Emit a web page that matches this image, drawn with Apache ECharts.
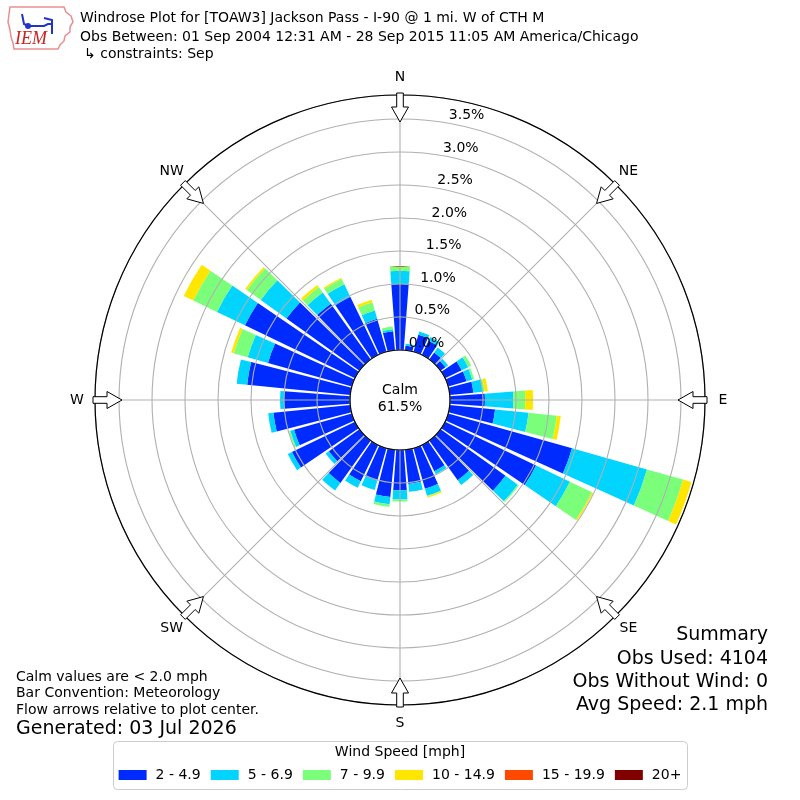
<!DOCTYPE html>
<html><head><meta charset="utf-8">
<script src="https://cdn.jsdelivr.net/npm/echarts/dist/echarts.min.js"></script>
<style>html,body{margin:0;padding:0;background:#fff}#c{width:800px;height:800px}</style>
</head><body><div id="c"></div>
<script>
// ---- data ----
const directions = ['0','10','20','30','40','50','60','70','80','90','100','110','120','130','140','150','160','170',
  '180','190','200','210','220','230','240','250','260','270','280','290','300','310','320','330','340','350'];
const speedBins = ['2 - 4.9','5 - 6.9','7 - 9.9','10 - 14.9','15 - 19.9','20+'];
const binColors = ['#002bff','#00d4ff','#7bff7b','#ffe600','#ff4800','#800000'];
// percent of observations per direction and speed bin
const speed2to5   = [1.00,0.07,0.27,0.24,0.13,0.09,0.28,0.29,0.36,0.53,0.69,1.95,1.53,1.21,0.74,0.44,0.64,0.52,
                     0.61,0.72,0.51,0.61,0.79,0.57,1.06,0.91,1.17,1.00,1.57,1.32,1.85,1.36,1.04,0.98,0.52,0.29];
const speed5to7   = [0.20,0.03,0.05,0.06,0.09,0.05,0.11,0.09,0.14,0.43,0.51,1.18,0.57,0.23,0.09,0.05,0.11,0.12,
                     0.14,0.11,0.15,0.11,0.14,0.06,0.07,0.06,0.08,0.06,0.16,0.32,0.47,0.48,0.21,0.21,0.13,0.03];
const speed7to10  = [0.07,0,0,0,0,0,0.05,0.03,0.03,0.18,0.43,0.57,0.37,0.02,0,0,0.01,0,
                     0.03,0.04,0,0,0,0,0,0.02,0,0,0,0.22,0.40,0.26,0.10,0.09,0.13,0.04];
const speed10to15 = [0,0,0,0,0,0,0,0,0.05,0.12,0.06,0.13,0.02,0,0,0,0.02,0,
                     0,0,0,0,0,0,0,0,0,0,0,0.04,0.16,0.03,0.04,0.02,0.04,0];
const speed15to20 = [0,0,0,0,0,0,0,0,0,0,0,0,0,0,0,0,0,0,0,0,0,0,0,0,0,0,0,0,0,0,0,0,0,0,0,0];
const speed20plus = [0,0,0,0,0,0,0,0,0,0,0,0,0,0,0,0,0,0,0,0,0,0,0,0,0,0,0,0,0,0,0,0,0,0,0,0];
const radialTicks = [0,0.5,1.0,1.5,2.0,2.5,3.0,3.5];
const compassLabels = ['N','NE','E','SE','S','SW','W','NW'];
const compassAngles = [0,45,90,135,180,225,270,315];
const calmPercent = 61.5;
const titleLines = ['Windrose Plot for [TOAW3] Jackson Pass - I-90 @ 1 mi. W of CTH M',
  'Obs Between: 01 Sep 2004 12:31 AM - 28 Sep 2015 11:05 AM America/Chicago'];
const constraintLine = '\u21b3 constraints: Sep';
const noteLines = ['Calm values are < 2.0 mph','Bar Convention: Meteorology','Flow arrows relative to plot center.'];
const generatedText = 'Generated: 03 Jul 2026';
const summaryLines = ['Summary','Obs Used: 4104','Obs Without Wind: 0','Avg Speed: 2.1 mph'];
const legendTitle = 'Wind Speed [mph]';

// ---- chart ----
const FONT = '"DejaVu Sans", sans-serif';
const rMax = 3.864;
const chart = echarts.init(document.getElementById('c'), null, {renderer:'canvas', width:800, height:800});
const binData = [speed2to5, speed5to7, speed7to10, speed10to15, speed15to20, speed20plus];
const series = speedBins.map((name, i) => ({
  type:'bar', name, coordinateSystem:'polar', polarIndex:0, stack:'wind',
  data: binData[i], barCategoryGap:'14%', itemStyle:{color: binColors[i]},
  emphasis:{disabled:true}, silent:true, z:2
}));
const gridColor = '#b0b0b0';
chart.setOption({
  animation:false,
  backgroundColor:'#fff',
  textStyle:{fontFamily:FONT},
  polar:[
    {center:[400,400], radius:[50,305]},
    {center:[400,400], radius:[50,305]}
  ],
  angleAxis:[
    {polarIndex:0, type:'category', data:directions, startAngle:95, clockwise:true, boundaryGap:true,
     axisLine:{show:false}, axisTick:{show:false}, axisLabel:{show:false}, splitLine:{show:false}, splitArea:{show:false}},
    {polarIndex:1, type:'value', min:0, max:360, interval:45, startAngle:90, clockwise:true,
     axisLine:{show:true, lineStyle:{color:'#000', width:1.2}}, axisTick:{show:false}, axisLabel:{show:false},
     splitLine:{show:true, lineStyle:{color:gridColor, width:1.1}}, splitArea:{show:false}, z:6}
  ],
  radiusAxis:[
    {polarIndex:0, type:'value', min:0, max:rMax,
     axisLine:{show:false}, axisTick:{show:false}, axisLabel:{show:false}, splitLine:{show:false}, splitArea:{show:false}},
    {polarIndex:1, type:'value', min:0, max:rMax, interval:0.5,
     axisLine:{show:false}, axisTick:{show:false}, axisLabel:{show:false},
     splitLine:{show:true, lineStyle:{color:gridColor, width:1.1}}, splitArea:{show:false}, z:5}
  ],
  legend:{
    data:speedBins, left:'center', top:763, icon:'rect', itemWidth:28, itemHeight:10, itemGap:10,
    selectedMode:false, z:10,
    textStyle:{fontFamily:FONT, fontSize:14, color:'#000', padding:[0,0,0,4]}
  },
  series
});

// ---- decorations placed through the polar coordinate system ----
function polarPt(r, a) { return chart.convertToPixel({polarIndex:1}, [r, a]); }
const g = [];
function txt(x, y, text, size, align, vAlign, extra) {
  g.push(Object.assign({type:'text', x, y, z:100, silent:true,
    style:{text, font: size + 'px ' + FONT, fill:'#000', align, verticalAlign:vAlign}}, extra || {}));
}
compassAngles.forEach((a, i) => {
  const p0 = polarPt(0, a), p1 = polarPt(rMax, a);
  const ux = (p1[0]-p0[0])/255, uy = (p1[1]-p0[1])/255;
  const cx = p0[0]-50*ux, cy = p0[1]-50*uy;
  const px = -uy, py = ux;
  const P = (r, w) => [cx + r*ux + w*px, cy + r*uy + w*py];
  g.push({type:'polygon', z:100, silent:true,
    shape:{points:[P(307,-3.3),P(293,-3.3),P(293,-8.5),P(278,0),P(293,8.5),P(293,3.3),P(307,3.3)]},
    style:{fill:'#fff', stroke:'#000', lineWidth:1}});
  const lp = P(323, 0);
  txt(lp[0], lp[1], compassLabels[i], 14, 'center', 'middle');
});
radialTicks.forEach(t => {
  const p = polarPt(t, 10);
  txt(p[0], p[1]-7.5, t.toFixed(1) + '%', 14, 'left', 'middle');
});
const c0 = polarPt(0, 0);
txt(c0[0], c0[1] + 40, 'Calm', 14, 'center', 'middle');
txt(c0[0], c0[1] + 57, calmPercent.toFixed(1) + '%', 14, 'center', 'middle');

// title
txt(80, 18, titleLines[0], 14, 'left', 'middle');
txt(80, 37, titleLines[1], 14, 'left', 'middle');
txt(84, 54, constraintLine, 14, 'left', 'middle');
// notes
txt(16, 677, noteLines[0], 14, 'left', 'middle');
txt(16, 693, noteLines[1], 14, 'left', 'middle');
txt(16, 710, noteLines[2], 14, 'left', 'middle');
txt(16, 729, generatedText, 19, 'left', 'middle');
// summary
[635, 659, 682, 705].forEach((y, i) => txt(768, y, summaryLines[i], 19, 'right', 'middle'));
// legend box
g.push({type:'rect', z:0, silent:true, shape:{x:113.5, y:741.5, width:574, height:48, r:4},
  style:{fill:'#fff', stroke:'#cccccc', lineWidth:1}});
txt(400, 752, legendTitle, 14, 'center', 'middle');
// IEM logo
g.push({type:'polygon', z:100, silent:true,
  shape:{points:[[10,7],[64,7],[66,12],[71,16],[73,22],[70,27],[70,32],[65,36],[64,41],[60,45],[58,49],
                 [14,49],[13,43],[11,37],[10,30],[8,22],[9,14]]},
  style:{fill:'none', stroke:'#e89090', lineWidth:1.5}});
g.push({type:'polyline', z:100, silent:true, shape:{points:[[22,14],[24,24],[28,26],[44,26],[48,24],[52,24]]},
  style:{stroke:'#2233cc', lineWidth:2, fill:'none'}});
g.push({type:'polyline', z:100, silent:true, shape:{points:[[44,18],[52,20],[52,34]]},
  style:{stroke:'#2233cc', lineWidth:2, fill:'none'}});
g.push({type:'circle', z:100, silent:true, shape:{cx:28, cy:26, r:3}, style:{fill:'#2233cc'}});
txt(15, 39, 'IEM', 18, 'left', 'middle', {style:{text:'IEM', font:'italic 18px "Liberation Serif", serif', fill:'#cc2222', align:'left', verticalAlign:'middle'}});

chart.setOption({graphic:g});
</script></body></html>
